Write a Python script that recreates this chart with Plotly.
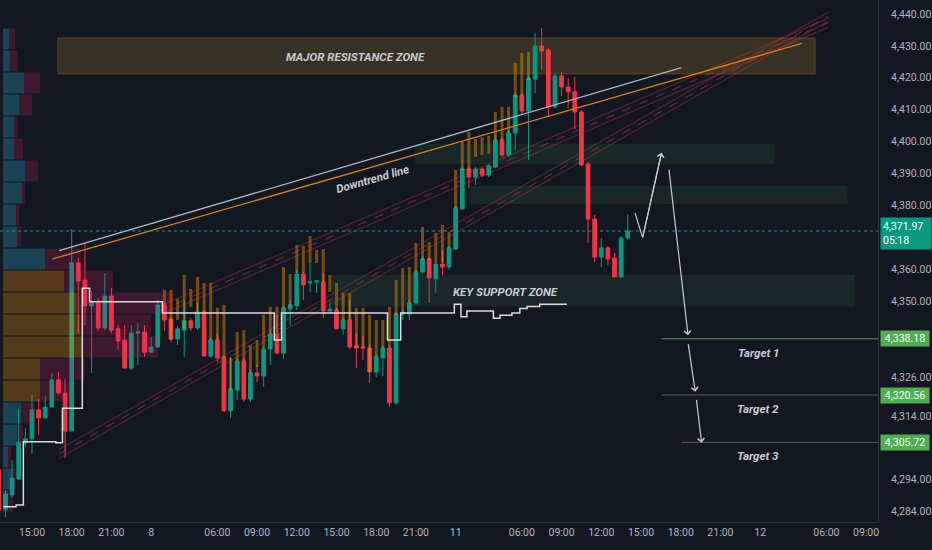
import plotly.graph_objects as go

# ---- 30-min candles, slot index (weekend / daily break collapsed) ----
slots = list(range(-5, 91))

opens = [
    4297.1, 4284.8, 4289.2, 4294.2, 4305.5, 4306.8, 4315.9, 4313.4, 4316.8, 4325.3,
    4321.2, 4309.3, 4362.0, 4356.6, 4348.5, 4349.4, 4341.6, 4351.6, 4341.3, 4337.8,
    4329.0, 4340.0, 4340.3, 4334.0, 4335.6, 4348.8, 4344.4, 4338.1, 4340.9, 4343.8,
    4341.6, 4346.6, 4332.8, 4337.8, 4332.5, 4315.6, 4322.1, 4331.2, 4319.3, 4327.5,
    4326.5, 4335.0, 4339.7, 4333.7, 4347.5, 4348.5, 4358.5, 4355.7, 4356.0, 4356.0,
    4346.9, 4347.2, 4341.3, 4344.1, 4335.9, 4335.6, 4335.3, 4327.8, 4332.2, 4335.3,
    4318.1, 4346.0, 4346.0, 4349.4, 4359.1, 4363.2, 4357.0, 4361.6, 4360.7, 4366.3,
    4378.9, 4391.4, 4388.9, 4391.4, 4389.5, 4392.0, 4400.5, 4395.8, 4402.7, 4414.6,
    4409.6, 4419.6, 4430.0, 4428.7, 4410.9, 4420.6, 4417.1, 4415.6, 4409.3, 4393.0,
    4375.7, 4363.8, 4366.7, 4363.5, 4357.6, 4369.8,
]
highs = [
    4298.6, 4290.8, 4300.2, 4316.2, 4310.2, 4320.6, 4319.3, 4320.2, 4327.5, 4327.8,
    4325.6, 4372.6, 4363.5, 4368.2, 4353.2, 4351.0, 4358.8, 4354.1, 4342.5, 4342.5,
    4342.5, 4343.1, 4342.5, 4338.8, 4350.4, 4349.4, 4345.0, 4342.2, 4350.4, 4344.7,
    4349.4, 4347.2, 4338.4, 4339.7, 4333.1, 4332.5, 4331.9, 4332.2, 4328.4, 4330.0,
    4335.6, 4340.9, 4345.7, 4348.5, 4350.4, 4359.8, 4359.1, 4362.0, 4356.6, 4358.8,
    4350.4, 4347.9, 4344.7, 4350.4, 4340.0, 4339.1, 4336.2, 4333.4, 4335.9, 4335.9,
    4346.6, 4347.2, 4350.4, 4359.8, 4363.8, 4363.8, 4362.3, 4366.0, 4367.3, 4379.8,
    4392.0, 4392.0, 4392.0, 4392.0, 4393.0, 4402.1, 4401.1, 4403.6, 4415.2, 4415.2,
    4420.6, 4434.1, 4435.6, 4429.4, 4421.2, 4421.8, 4419.9, 4420.3, 4409.9, 4393.6,
    4377.0, 4369.8, 4367.3, 4365.1, 4370.4, 4377.3,
]
lows = [
    4282.9, 4282.3, 4288.3, 4293.9, 4304.3, 4302.1, 4308.0, 4313.0, 4316.8, 4320.6,
    4300.8, 4309.3, 4340.0, 4342.5, 4327.5, 4340.6, 4340.9, 4340.0, 4334.7, 4329.0,
    4328.4, 4330.0, 4332.5, 4333.7, 4335.3, 4340.6, 4337.2, 4336.2, 4332.5, 4340.6,
    4340.9, 4332.5, 4332.2, 4330.9, 4315.2, 4313.4, 4319.0, 4318.4, 4318.4, 4324.6,
    4323.1, 4330.0, 4333.4, 4331.9, 4342.2, 4347.2, 4350.4, 4352.9, 4352.6, 4344.7,
    4346.0, 4341.3, 4339.4, 4335.0, 4329.0, 4331.5, 4324.3, 4326.2, 4326.5, 4316.8,
    4317.4, 4344.1, 4344.1, 4348.8, 4358.5, 4349.4, 4352.6, 4358.2, 4359.8, 4366.0,
    4378.6, 4385.5, 4386.4, 4388.9, 4388.9, 4391.7, 4395.2, 4395.2, 4397.4, 4408.3,
    4394.2, 4415.2, 4422.5, 4407.7, 4410.5, 4414.3, 4410.5, 4403.9, 4392.4, 4368.2,
    4362.3, 4360.7, 4361.3, 4357.3, 4357.3, 4369.2,
]
closes = [
    4284.5, 4289.5, 4294.5, 4305.8, 4306.8, 4315.9, 4313.4, 4316.8, 4325.3, 4321.2,
    4309.3, 4362.0, 4356.3, 4348.5, 4349.4, 4341.6, 4351.6, 4340.9, 4337.5, 4329.0,
    4340.0, 4340.3, 4334.0, 4335.6, 4348.8, 4344.1, 4338.1, 4341.3, 4343.8, 4341.6,
    4346.6, 4332.8, 4337.8, 4332.2, 4315.6, 4322.5, 4331.2, 4319.3, 4327.5, 4326.5,
    4335.0, 4339.7, 4333.7, 4347.9, 4348.8, 4358.5, 4355.1, 4356.0, 4356.3, 4346.9,
    4347.5, 4341.3, 4344.1, 4335.6, 4335.3, 4335.3, 4327.8, 4332.5, 4335.3, 4318.1,
    4346.0, 4346.3, 4349.4, 4359.1, 4363.2, 4357.3, 4361.6, 4360.7, 4366.7, 4379.2,
    4391.4, 4388.9, 4391.4, 4389.5, 4392.4, 4400.5, 4395.8, 4402.7, 4414.6, 4409.6,
    4419.9, 4430.0, 4428.4, 4410.9, 4420.6, 4417.1, 4415.6, 4409.3, 4392.7, 4375.7,
    4363.8, 4366.7, 4363.2, 4357.6, 4369.8, 4371.97,
]

# orange overlay bars (second series, high/low per slot)
orange_x = list(range(20, 76))
orange_hi = [
    4353.5, 4353.5, 4350.7, 4358.2, 4353.8, 4357.6, 4355.7, 4355.7, 4347.9, 4348.8,
    4332.2, 4340.3, 4340.9, 4336.2, 4337.8, 4345.7, 4348.2, 4348.2, 4360.7, 4358.5,
    4367.6, 4367.3, 4370.4, 4366.0, 4366.3, 4358.2, 4355.7, 4352.6, 4352.6, 4347.9,
    4347.9, 4345.7, 4344.1, 4344.1, 4348.2, 4356.6, 4360.4, 4360.7, 4368.2, 4373.2,
    4368.5, 4371.4, 4373.9, 4371.7, 4391.1, 4399.9, 4403.0, 4400.8, 4401.4, 4401.8,
    4409.3, 4410.9, 4410.9, 4424.6, 4427.8, 4428.1,
]
orange_lo = [
    4348.8, 4337.8, 4344.1, 4341.3, 4348.2, 4346.6, 4346.6, 4337.8, 4337.8, 4332.5,
    4322.1, 4331.2, 4331.2, 4327.5, 4329.3, 4335.3, 4339.7, 4340.0, 4347.9, 4348.5,
    4358.8, 4358.8, 4362.0, 4362.0, 4356.0, 4352.9, 4347.2, 4344.1, 4344.1, 4335.6,
    4335.6, 4327.8, 4332.5, 4335.3, 4335.6, 4345.7, 4345.7, 4349.4, 4359.1, 4362.9,
    4362.9, 4362.0, 4362.0, 4366.7, 4379.2, 4391.1, 4391.1, 4395.2, 4395.8, 4396.1,
    4400.5, 4400.5, 4402.7, 4414.0, 4414.6, 4419.3,
]

# volume profile rows (price bin centre, bottom -> top)
vp_price = [
    4287.3, 4294.2, 4301.1, 4308.0, 4314.9, 4321.8, 4328.7, 4335.6, 4342.5, 4349.4, 4356.3,
    4363.2, 4370.1, 4377.0, 4383.9, 4390.8, 4397.7, 4404.6, 4411.5, 4418.4, 4425.3, 4432.2,
]
vp_up = [5, 9, 5, 14, 18, 37, 37, 78, 77, 74, 61, 42, 14, 13, 19, 22, 11, 11, 16, 21, 7, 6]
vp_total = [10, 13, 8, 20, 32, 68, 82, 155, 148, 170, 110, 78, 18, 16, 22, 35, 20, 15, 29, 37, 15, 12]
value_area = (4318.0, 4360.0)

# session line (step)
vwap_x = [-4.3, -2.4, -1.3, 3.6, 4.6, 7.6, 8.7, 19.7, 36.6, 37.7, 53.7, 55.7, 63.8, 64.8,
          65.7, 69.7, 70.7, 72.5, 73.7, 74.8, 76.7, 80.8]
vwap_y = [4285.5, 4286.1, 4305.9, 4305.6, 4316.4, 4354.0, 4349.8, 4346.3, 4337.8, 4346.3,
          4337.8, 4346.3, 4349.0, 4345.1, 4346.9, 4344.6, 4345.6, 4346.3, 4347.7, 4348.3,
          4349.0, 4349.0]

# drawings (slot, price)
white_line = ([4.1, 98.1], [4365.8, 4423.2])
downtrend_line = ([3.1, 116.3], [4363.2, 4430.8])
channel_a = ([19.3, 120.2], [4347.1, 4437.2])
channel_b = ([4.1, 120.2], [4302.1, 4439.1])
resistance_zone = (3.9, 118.3, 4421.2, 4432.5)
green_zones = [(57.9, 112.2, 4393.0, 4399.3), (66.1, 123.2, 4380.4, 4386.1)]
support_zone = (45.3, 124.3, 4348.3, 4358.2)
path_x = [91.1, 92.25, 95.1]
path_y = [4377.6, 4369.9, 4396.5]
drop_arrows = [((96.2, 4391.7), (99.1, 4339.3)), ((99.1, 4337.0), (100.2, 4321.6)),
               ((100.35, 4319.5), (101.15, 4305.6))]
targets = [("Target 1", 4338.18, 95.1), ("Target 2", 4320.56, 95.1), ("Target 3", 4305.72, 98.1)]

tick_slots = [0, 6, 12, 18, 28, 34, 40, 46, 52, 58, 64, 74, 80, 86, 92, 98, 104, 110, 120, 126]
tick_text = ["15:00", "18:00", "21:00", "8", "06:00", "09:00", "12:00", "15:00", "18:00", "21:00",
             "11", "06:00", "09:00", "12:00", "15:00", "18:00", "21:00", "12", "06:00", "09:00"]
price_ticks = [4440, 4430, 4420, 4410, 4400, 4390, 4380, 4360, 4350, 4326, 4314, 4294, 4284]

BG = "#131722"
UP = "#089981"
DOWN = "#f23645"
AXFONT = dict(family="Roboto, sans-serif", size=10.5, color="#b2b5be")
DRAWFONT = dict(family="Roboto, sans-serif", size=11.5, color="#c9cbd2", weight="bold", style="italic")

fig = go.Figure()

# candles
fig.add_trace(go.Candlestick(
    x=slots, open=opens, high=highs, low=lows, close=closes,
    increasing=dict(line=dict(color=UP, width=1), fillcolor=UP),
    decreasing=dict(line=dict(color=DOWN, width=1), fillcolor=DOWN),
    whiskerwidth=0, hoverinfo="skip",
))

# orange bars
ox, oy = [], []
for x, hi, lo in zip(orange_x, orange_hi, orange_lo):
    ox += [x, x, None]
    oy += [lo, hi, None]
fig.add_trace(go.Scatter(x=ox, y=oy, mode="lines", line=dict(color="rgba(255,152,0,0.42)", width=3),
                         hoverinfo="skip"))

# volume profile on an overlay axis
in_va = [value_area[0] <= p <= value_area[1] for p in vp_price]
fig.add_trace(go.Bar(
    y=vp_price, x=vp_up, base=0, orientation="h", xaxis="x2", width=6.6,
    marker=dict(color=["rgba(255,152,0,0.28)" if v else "rgba(40,150,180,0.35)" for v in in_va],
                line=dict(width=0)),
    hoverinfo="skip",
))
fig.add_trace(go.Bar(
    y=vp_price, x=[t - u for t, u in zip(vp_total, vp_up)], base=vp_up, orientation="h",
    xaxis="x2", width=6.6,
    marker=dict(color="rgba(233,30,99,0.2)", line=dict(width=0)), hoverinfo="skip",
))


def line3(xs, ys, color, width=1, dash="solid"):
    fig.add_trace(go.Scatter(x=xs, y=ys, mode="lines", xaxis="x3",
                             line=dict(color=color, width=width, dash=dash), hoverinfo="skip"))


for ch in (channel_a, channel_b):
    for off in (-1.4, 1.4):
        line3(ch[0], [v + off for v in ch[1]], "rgba(242,54,69,0.38)", 1)
    line3(ch[0], ch[1], "rgba(242,54,69,0.5)", 1, "dash")
line3(*white_line, "#b2b5be", 1.3)
line3(*downtrend_line, "#d8801e", 1.3)
fig.add_trace(go.Scatter(x=vwap_x, y=vwap_y, mode="lines", xaxis="x3", line_shape="hv",
                         line=dict(color="#dcdcdc", width=1.5), hoverinfo="skip"))
line3(path_x, path_y, "#c8cad0", 1.2)

shapes = []
x0, x1, y0, y1 = resistance_zone
shapes.append(dict(type="rect", x0=x0, x1=x1, y0=y0, y1=y1, layer="below",
                   fillcolor="rgba(200,160,40,0.2)", line=dict(color="rgba(120,80,30,0.6)", width=1)))
for x0, x1, y0, y1 in green_zones + [support_zone]:
    shapes.append(dict(type="rect", x0=x0, x1=x1, y0=y0, y1=y1, layer="below",
                       fillcolor="rgba(76,175,80,0.11)", line=dict(width=0)))
shapes.append(dict(type="line", xref="paper", x0=0, x1=1, y0=closes[-1], y1=closes[-1], layer="above",
                   line=dict(color=UP, width=1, dash="dot")))
for i, (name, lvl, xs) in enumerate(targets):
    shapes.append(dict(type="line", x0=xs, x1=127.8, y0=lvl, y1=lvl, layer="above",
                       line=dict(color="#43a047" if i == 0 else "rgba(76,175,80,0.6)", width=1)))

ann = []
ann.append(dict(x=48.8, y=4426.5, text="MAJOR RESISTANCE ZONE", showarrow=False, font=DRAWFONT))
ann.append(dict(x=51.5, y=4388.2, text="Downtrend line", showarrow=False, textangle=-16, font=DRAWFONT))
ann.append(dict(x=71.6, y=4352.9, text="KEY SUPPORT ZONE", showarrow=False, font=DRAWFONT))
for name, lvl, xs in targets:
    ann.append(dict(x=109.7, y=lvl - 4.3, text=name, showarrow=False, font=DRAWFONT))
ann.append(dict(x=path_x[-1], y=path_y[-1], ax=path_x[-2], ay=path_y[-2], axref="x", ayref="y",
                text="", showarrow=True, arrowhead=4, arrowsize=1.1, arrowwidth=1.2, arrowcolor="#c8cad0"))
for (sx, sy), (ex, ey) in drop_arrows:
    ann.append(dict(x=ex, y=ey, ax=sx, ay=sy, axref="x", ayref="y", text="", showarrow=True,
                    arrowhead=4, arrowsize=1.1, arrowwidth=1.2, arrowcolor="#c8cad0"))
# price labels on the scale
ann.append(dict(xref="paper", x=1.002, xanchor="left", y=closes[-1], yanchor="middle", yshift=-2,
                text=f"{closes[-1]:,.2f}<br>05:18", showarrow=False, align="left", bgcolor=UP,
                width=46, borderpad=2, font=dict(AXFONT, color="white")))
for name, lvl, xs in targets:
    ann.append(dict(xref="paper", x=1.002, xanchor="left", y=lvl, yanchor="middle",
                    text=f"{lvl:,.2f}", showarrow=False, bgcolor="#4caf50", width=46, borderpad=1,
                    font=dict(AXFONT, color="white")))

fig.update_layout(
    width=932, height=550,
    margin=dict(l=0, r=54, t=0, b=28),
    paper_bgcolor=BG, plot_bgcolor=BG,
    showlegend=False, barmode="overlay", boxgap=0.2,
    shapes=shapes, annotations=ann,
    xaxis=dict(range=[-4.83, 127.8], tickvals=tick_slots, ticktext=tick_text, showgrid=False,
               zeroline=False, rangeslider=dict(visible=False), tickfont=AXFONT, ticks="",
               showline=True, linecolor="#2a2e39"),
    xaxis2=dict(overlaying="x", range=[-3, 875], visible=False),
    xaxis3=dict(overlaying="x", range=[-4.83, 127.8], visible=False),
    yaxis=dict(side="right", range=[4280.75, 4444.39], tickvals=price_ticks, tickformat=",.2f",
               showgrid=False, zeroline=False, ticks="", tickfont=AXFONT, ticklabelstandoff=10,
               showline=True, linecolor="#2a2e39"),
)

fig.write_html("out.html", config={"displayModeBar": False},
               post_script="document.body.style.margin='0px';")
